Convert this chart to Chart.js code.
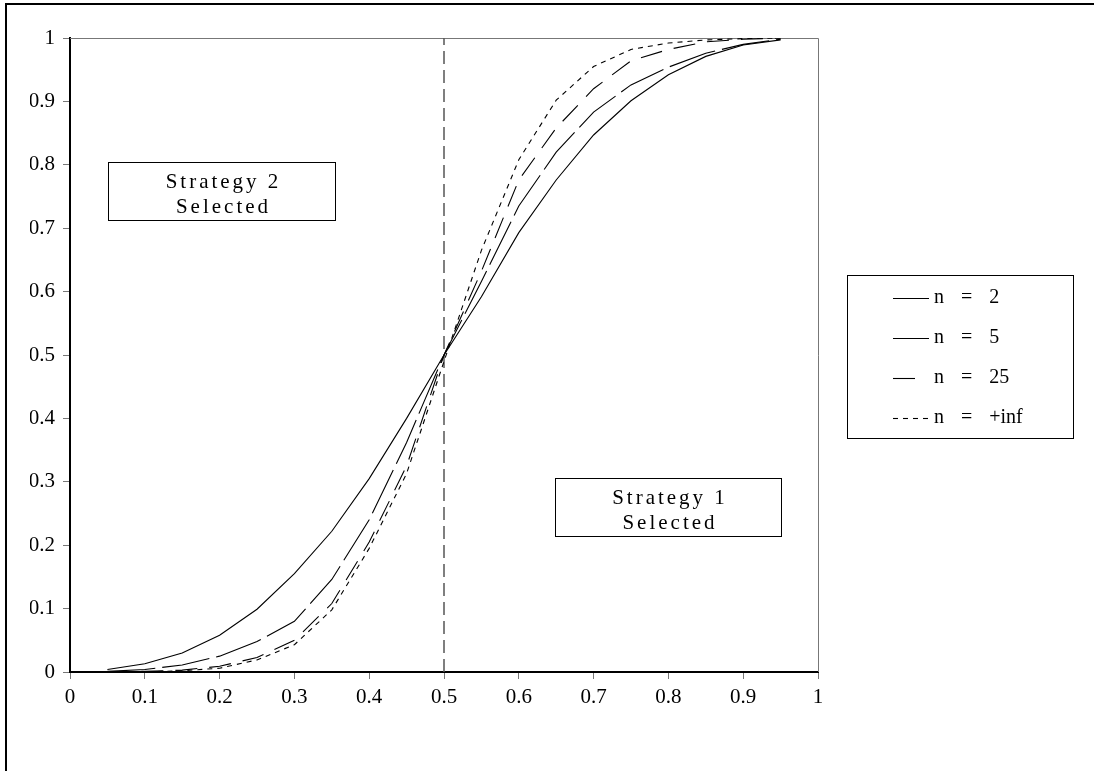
<!DOCTYPE html>
<html>
<head>
<meta charset="utf-8">
<script src="https://cdn.jsdelivr.net/npm/chart.js@4.4.0/dist/chart.umd.min.js"></script>
<style>
  body { margin: 0; background: #fff; overflow: hidden; }
  #frame { position: absolute; left: 5px; top: 3px; width: 1200px; height: 900px;
           border-top: 2px solid #000; border-left: 2px solid #000; }
  #myChart { position: absolute; left: 0; top: 0; }
</style>
</head>
<body>
<div id="frame"></div>
<canvas id="myChart" width="1094" height="771"></canvas>
<script>
// valores
const xs = [0.05, 0.1, 0.15, 0.2, 0.25, 0.3, 0.35, 0.4, 0.45, 0.5, 0.55, 0.6, 0.65, 0.7, 0.75, 0.8, 0.85, 0.9, 0.95];
const n2 = [0.004, 0.013, 0.030, 0.058, 0.099, 0.155, 0.222, 0.305, 0.400, 0.5, 0.592, 0.693, 0.776, 0.847, 0.901, 0.942, 0.971, 0.989, 0.997];
const n5 = [0.001, 0.004, 0.011, 0.025, 0.048, 0.080, 0.146, 0.240, 0.362, 0.5, 0.616, 0.735, 0.820, 0.883, 0.926, 0.954, 0.976, 0.990, 0.998];
const n25 = [0.000, 0.001, 0.003, 0.009, 0.023, 0.050, 0.108, 0.205, 0.325, 0.5, 0.632, 0.776, 0.858, 0.920, 0.964, 0.982, 0.994, 0.998, 1.0];
const nInf = [0.000, 0.000, 0.002, 0.006, 0.019, 0.043, 0.098, 0.195, 0.313, 0.49, 0.665, 0.808, 0.902, 0.955, 0.982, 0.992, 0.997, 0.999, 1.0];
const seriesNames = ['n = 2', 'n = 5', 'n = 25', 'n = +inf'];
const divider = [{x: 0.5, y: 0}, {x: 0.5, y: 1}];
const tickLabels = ['0', '0.1', '0.2', '0.3', '0.4', '0.5', '0.6', '0.7', '0.8', '0.9', '1'];
const boxes = [
  {x0: 0.051, x1: 0.354, y0: 0.713, y1: 0.804, text: ['Strategy 2', 'Selected']},
  {x0: 0.648, x1: 0.951, y0: 0.2145, y1: 0.306, text: ['Strategy 1', 'Selected']}
];

const serif = "'Liberation Serif', 'DejaVu Serif', serif";
Chart.defaults.font.family = serif;
Chart.defaults.color = '#000';

function pontos(arr) {
  return xs.map((x, i) => ({x: x, y: arr[i]}));
}

const estilos = [
  {dash: [], fim: 929},
  {dash: [48, 7], fim: 929},
  {dash: [22, 12], fim: 916},
  {dash: [5, 5], fim: 929}
];

const datasets = [n2, n5, n25, nInf].map((arr, i) => ({
  label: seriesNames[i],
  data: pontos(arr),
  borderColor: '#000',
  borderWidth: 1.1,
  borderDash: estilos[i].dash,
  pointRadius: 0,
  tension: 0
}));
datasets.push({
  label: 'divisor',
  data: divider,
  borderColor: '#555',
  borderWidth: 1.5,
  borderDash: [13, 6],
  pointRadius: 0
});

// moldura do grafico, caixas de texto e legenda
const extras = {
  id: 'extras',
  beforeDatasetsDraw(chart) {
    const {ctx, chartArea: a} = chart;
    ctx.save();
    ctx.strokeStyle = '#777';
    ctx.lineWidth = 1;
    ctx.beginPath();
    ctx.moveTo(a.left, a.top + 0.5);
    ctx.lineTo(a.right + 0.5, a.top + 0.5);
    ctx.lineTo(a.right + 0.5, a.bottom);
    ctx.stroke();
    ctx.restore();
  },
  afterDraw(chart) {
    const {ctx} = chart;
    const sx = chart.scales.x, sy = chart.scales.y;
    ctx.save();
    boxes.forEach(b => {
      const l = Math.round(sx.getPixelForValue(b.x0)) + 0.5;
      const r = Math.round(sx.getPixelForValue(b.x1)) + 0.5;
      const t = Math.round(sy.getPixelForValue(b.y1)) + 0.5;
      const btm = Math.round(sy.getPixelForValue(b.y0)) + 0.5;
      ctx.fillStyle = '#fff';
      ctx.fillRect(l, t, r - l, btm - t);
      ctx.strokeStyle = '#000';
      ctx.lineWidth = 1;
      ctx.setLineDash([]);
      ctx.strokeRect(l, t, r - l, btm - t);
      ctx.fillStyle = '#000';
      ctx.font = '21px ' + serif;
      ctx.letterSpacing = '3px';
      ctx.textAlign = 'center';
      ctx.textBaseline = 'middle';
      const cx = (l + r) / 2;
      ctx.fillText(b.text[0], cx + 1.5, t + 20);
      ctx.fillText(b.text[1], cx + 1.5, t + 45);
    });

    // legenda
    ctx.letterSpacing = '0px';
    ctx.strokeStyle = '#000';
    ctx.lineWidth = 1;
    ctx.strokeRect(847.5, 275.5, 226, 163);
    ctx.font = '20px ' + serif;
    ctx.textAlign = 'left';
    ctx.textBaseline = 'middle';
    for (let i = 0; i < 4; i++) {
      const y = 298 + i * 40;
      ctx.setLineDash(estilos[i].dash);
      ctx.lineWidth = 1.1;
      ctx.beginPath();
      ctx.moveTo(893, y + 0.5);
      ctx.lineTo(estilos[i].fim, y + 0.5);
      ctx.stroke();
      ctx.setLineDash([]);
      let x = 934;
      seriesNames[i].split(' ').forEach(tok => {
        ctx.fillText(tok, x, y);
        x += ctx.measureText(tok).width + 17;
      });
    }
    ctx.restore();
  }
};

const config = {
  type: 'line',
  data: {datasets: datasets},
  options: {
    responsive: false,
    animation: false,
    layout: {padding: {left: 30, right: 276, top: 38, bottom: 54}},
    plugins: {legend: {display: false}, tooltip: {enabled: false}},
    scales: {
      x: {
        type: 'linear', min: 0, max: 1,
        afterFit(scale) { scale.height = 45; },
        border: {color: '#000', width: 2},
        grid: {drawOnChartArea: false, color: '#777', tickLength: 7},
        ticks: {stepSize: 0.1, padding: 6, font: {size: 21}, maxRotation: 0,
                callback: (v, i) => tickLabels[i]}
      },
      y: {
        type: 'linear', min: 0, max: 1,
        afterFit(scale) { scale.width = 40; },
        border: {color: '#000', width: 2},
        grid: {drawOnChartArea: false, color: '#777', tickLength: 7},
        ticks: {stepSize: 0.1, padding: 8, font: {size: 21},
                callback: (v, i) => tickLabels[i]}
      }
    }
  },
  plugins: [extras]
};

const myChart = new Chart(document.getElementById('myChart'), config);
</script>
</body>
</html>
